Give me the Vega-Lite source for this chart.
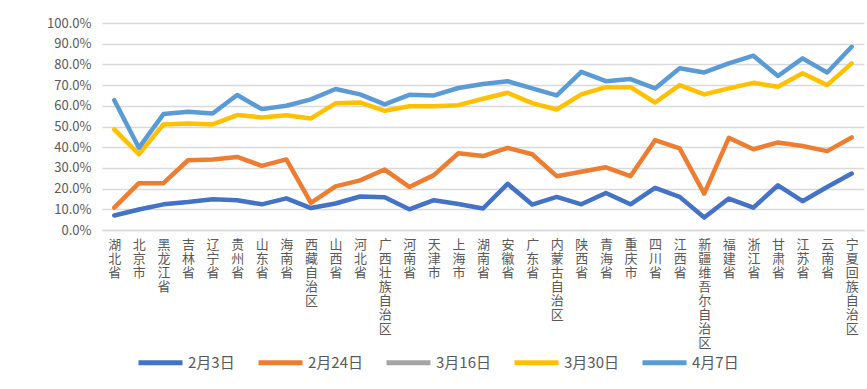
{
  "$schema": "https://vega.github.io/schema/vega-lite/v6.json",
  "width": 762,
  "height": 207,
  "autosize": "none",
  "padding": {"left": 102, "top": 23, "right": 3, "bottom": 159},
  "background": "white",
  "data": {"values": [
    {"p":"湖北省","s":"2月3日","v":0.070},{"p":"湖北省","s":"2月24日","v":0.108},{"p":"湖北省","s":"3月30日","v":0.486},{"p":"湖北省","s":"4月7日","v":0.627},
    {"p":"北京市","s":"2月3日","v":0.099},{"p":"北京市","s":"2月24日","v":0.226},{"p":"北京市","s":"3月30日","v":0.366},{"p":"北京市","s":"4月7日","v":0.397},
    {"p":"黑龙江省","s":"2月3日","v":0.124},{"p":"黑龙江省","s":"2月24日","v":0.226},{"p":"黑龙江省","s":"3月30日","v":0.510},{"p":"黑龙江省","s":"4月7日","v":0.560},
    {"p":"吉林省","s":"2月3日","v":0.135},{"p":"吉林省","s":"2月24日","v":0.337},{"p":"吉林省","s":"3月30日","v":0.515},{"p":"吉林省","s":"4月7日","v":0.571},
    {"p":"辽宁省","s":"2月3日","v":0.149},{"p":"辽宁省","s":"2月24日","v":0.341},{"p":"辽宁省","s":"3月30日","v":0.510},{"p":"辽宁省","s":"4月7日","v":0.563},
    {"p":"贵州省","s":"2月3日","v":0.144},{"p":"贵州省","s":"2月24日","v":0.353},{"p":"贵州省","s":"3月30日","v":0.555},{"p":"贵州省","s":"4月7日","v":0.652},
    {"p":"山东省","s":"2月3日","v":0.124},{"p":"山东省","s":"2月24日","v":0.310},{"p":"山东省","s":"3月30日","v":0.544},{"p":"山东省","s":"4月7日","v":0.584},
    {"p":"海南省","s":"2月3日","v":0.153},{"p":"海南省","s":"2月24日","v":0.341},{"p":"海南省","s":"3月30日","v":0.554},{"p":"海南省","s":"4月7日","v":0.600},
    {"p":"西藏自治区","s":"2月3日","v":0.106},{"p":"西藏自治区","s":"2月24日","v":0.131},{"p":"西藏自治区","s":"3月30日","v":0.539},{"p":"西藏自治区","s":"4月7日","v":0.631},
    {"p":"山西省","s":"2月3日","v":0.128},{"p":"山西省","s":"2月24日","v":0.211},{"p":"山西省","s":"3月30日","v":0.612},{"p":"山西省","s":"4月7日","v":0.681},
    {"p":"河北省","s":"2月3日","v":0.162},{"p":"河北省","s":"2月24日","v":0.240},{"p":"河北省","s":"3月30日","v":0.616},{"p":"河北省","s":"4月7日","v":0.655},
    {"p":"广西壮族自治区","s":"2月3日","v":0.158},{"p":"广西壮族自治区","s":"2月24日","v":0.292},{"p":"广西壮族自治区","s":"3月30日","v":0.576},{"p":"广西壮族自治区","s":"4月7日","v":0.607},
    {"p":"河南省","s":"2月3日","v":0.100},{"p":"河南省","s":"2月24日","v":0.208},{"p":"河南省","s":"3月30日","v":0.598},{"p":"河南省","s":"4月7日","v":0.653},
    {"p":"天津市","s":"2月3日","v":0.144},{"p":"天津市","s":"2月24日","v":0.265},{"p":"天津市","s":"3月30日","v":0.598},{"p":"天津市","s":"4月7日","v":0.650},
    {"p":"上海市","s":"2月3日","v":0.126},{"p":"上海市","s":"2月24日","v":0.371},{"p":"上海市","s":"3月30日","v":0.603},{"p":"上海市","s":"4月7日","v":0.686},
    {"p":"湖南省","s":"2月3日","v":0.104},{"p":"湖南省","s":"2月24日","v":0.357},{"p":"湖南省","s":"3月30日","v":0.634},{"p":"湖南省","s":"4月7日","v":0.705},
    {"p":"安徽省","s":"2月3日","v":0.223},{"p":"安徽省","s":"2月24日","v":0.397},{"p":"安徽省","s":"3月30日","v":0.663},{"p":"安徽省","s":"4月7日","v":0.719},
    {"p":"广东省","s":"2月3日","v":0.123},{"p":"广东省","s":"2月24日","v":0.366},{"p":"广东省","s":"3月30日","v":0.613},{"p":"广东省","s":"4月7日","v":0.684},
    {"p":"内蒙古自治区","s":"2月3日","v":0.160},{"p":"内蒙古自治区","s":"2月24日","v":0.260},{"p":"内蒙古自治区","s":"3月30日","v":0.582},{"p":"内蒙古自治区","s":"4月7日","v":0.650},
    {"p":"陕西省","s":"2月3日","v":0.124},{"p":"陕西省","s":"2月24日","v":0.281},{"p":"陕西省","s":"3月30日","v":0.655},{"p":"陕西省","s":"4月7日","v":0.764},
    {"p":"青海省","s":"2月3日","v":0.179},{"p":"青海省","s":"2月24日","v":0.303},{"p":"青海省","s":"3月30日","v":0.690},{"p":"青海省","s":"4月7日","v":0.719},
    {"p":"重庆市","s":"2月3日","v":0.124},{"p":"重庆市","s":"2月24日","v":0.260},{"p":"重庆市","s":"3月30日","v":0.690},{"p":"重庆市","s":"4月7日","v":0.729},
    {"p":"四川省","s":"2月3日","v":0.203},{"p":"四川省","s":"2月24日","v":0.434},{"p":"四川省","s":"3月30日","v":0.616},{"p":"四川省","s":"4月7日","v":0.684},
    {"p":"江西省","s":"2月3日","v":0.160},{"p":"江西省","s":"2月24日","v":0.394},{"p":"江西省","s":"3月30日","v":0.700},{"p":"江西省","s":"4月7日","v":0.781},
    {"p":"新疆维吾尔自治区","s":"2月3日","v":0.060},{"p":"新疆维吾尔自治区","s":"2月24日","v":0.176},{"p":"新疆维吾尔自治区","s":"3月30日","v":0.655},{"p":"新疆维吾尔自治区","s":"4月7日","v":0.761},
    {"p":"福建省","s":"2月3日","v":0.152},{"p":"福建省","s":"2月24日","v":0.445},{"p":"福建省","s":"3月30日","v":0.684},{"p":"福建省","s":"4月7日","v":0.805},
    {"p":"浙江省","s":"2月3日","v":0.108},{"p":"浙江省","s":"2月24日","v":0.390},{"p":"浙江省","s":"3月30日","v":0.711},{"p":"浙江省","s":"4月7日","v":0.842},
    {"p":"甘肃省","s":"2月3日","v":0.216},{"p":"甘肃省","s":"2月24日","v":0.423},{"p":"甘肃省","s":"3月30日","v":0.692},{"p":"甘肃省","s":"4月7日","v":0.744},
    {"p":"江苏省","s":"2月3日","v":0.139},{"p":"江苏省","s":"2月24日","v":0.406},{"p":"江苏省","s":"3月30日","v":0.757},{"p":"江苏省","s":"4月7日","v":0.829},
    {"p":"云南省","s":"2月3日","v":0.208},{"p":"云南省","s":"2月24日","v":0.381},{"p":"云南省","s":"3月30日","v":0.700},{"p":"云南省","s":"4月7日","v":0.761},
    {"p":"宁夏回族自治区","s":"2月3日","v":0.273},{"p":"宁夏回族自治区","s":"2月24日","v":0.447},{"p":"宁夏回族自治区","s":"3月30日","v":0.805},{"p":"宁夏回族自治区","s":"4月7日","v":0.885}
  ]},
  "mark": {"type": "line", "strokeWidth": 4.5, "strokeCap": "round", "strokeJoin": "round"},
  "encoding": {
    "x": {
      "field": "p", "type": "nominal", "sort": null,
      "scale": {"type": "point", "padding": 0.5},
      "axis": {
        "title": null, "labelAngle": 0, "labelAlign": "center", "labelBaseline": "top",
        "labelExpr": "split(datum.label, '')", "labelLineHeight": 14, "labelFontSize": 13,
        "labelPadding": 8, "labelOverlap": false, "ticks": false, "domain": true,
        "domainColor": "#d9d9d9", "domainWidth": 1.3, "grid": false,
        "labelColor": "#595959", "labelFont": "Noto Sans CJK SC"
      }
    },
    "y": {
      "field": "v", "type": "quantitative",
      "scale": {"domain": [0, 1], "nice": false},
      "axis": {
        "title": null, "format": ".1%", "values": [0,0.1,0.2,0.3,0.4,0.5,0.6,0.7,0.8,0.9,1],
        "ticks": false, "domain": false, "gridColor": "#d9d9d9", "gridWidth": 1.3,
        "labelFontSize": 13, "labelColor": "#595959", "labelPadding": 11,
        "labelFont": "Noto Sans CJK SC"
      }
    },
    "color": {
      "field": "s", "type": "nominal",
      "scale": {
        "domain": ["2月3日", "2月24日", "3月16日", "3月30日", "4月7日"],
        "range": ["#4472C4", "#ED7D31", "#A5A5A5", "#FFC000", "#5B9BD5"]
      },
      "legend": {
        "title": null, "orient": "none", "direction": "horizontal",
        "legendX": 34, "legendY": 315, "padding": 0,
        "symbolType": "stroke", "symbolSize": 1936, "symbolStrokeWidth": 5,
        "labelFontSize": 15, "labelColor": "#595959", "labelFont": "Noto Sans CJK SC",
        "labelOffset": 3, "columnPadding": 13
      }
    }
  },
  "config": {"view": {"stroke": null}}
}
